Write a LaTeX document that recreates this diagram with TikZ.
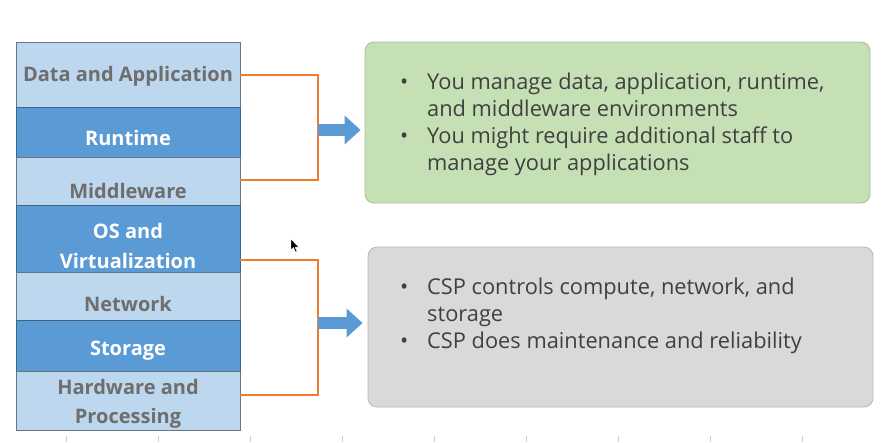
\documentclass[tikz,border=0pt]{standalone}
\usepackage{fontspec}
\setmainfont{Open Sans}
\usetikzlibrary{arrows.meta}
\definecolor{lightb}{HTML}{BDD7EE}
\definecolor{darkb}{HTML}{5B9BD5}
\definecolor{orng}{HTML}{ED7D31}
\definecolor{greenf}{HTML}{C5E0B4}
\definecolor{grayf}{HTML}{D9D9D9}
\definecolor{txtg}{HTML}{6E6E6E}
\definecolor{txtd}{HTML}{404040}
\begin{document}
\begin{tikzpicture}[x=1pt,y=-1pt,
  row/.style={draw, line width=0.8pt, minimum width=224pt, inner sep=0pt, outer sep=0pt},
  lrow/.style={row, fill=lightb, draw=lightb!55!black},
  drow/.style={row, fill=darkb, draw=darkb!65!black},
  ltxt/.style={font=\fontsize{20}{24}\selectfont\bfseries, text=txtg, inner sep=0pt, anchor=base},
  dtxt/.style={font=\fontsize{20}{24}\selectfont\bfseries, text=white, inner sep=0pt, anchor=base},
  bracket/.style={draw=orng, line width=2pt},
  bigarrow/.style={draw=darkb, line width=12pt, -{Triangle[width=28pt,length=16pt]}},
  infobox/.style={rounded corners=9pt, line width=0.8pt, minimum width=505pt, inner sep=0pt},
  btxt/.style={font=\fontsize{21.8}{26}\selectfont, text=txtd, inner sep=0pt, anchor=base west},
  tick/.style={draw=gray!40, line width=1pt}
]
\useasboundingbox (0,0) rectangle (885,442);
\fill[white] (0,0) rectangle (885,442);

% stack rows
\node[lrow, minimum height=65pt] (data) at (128,74.5) {};
\node[drow, minimum height=50pt] (runtime) at (128,132) {};
\node[lrow, minimum height=48pt] (middleware) at (128,181) {};
\node[drow, minimum height=67pt] (os) at (128,238.5) {};
\node[lrow, minimum height=48pt] (network) at (128,296) {};
\node[drow, minimum height=51pt] (storage) at (128,345.5) {};
\node[lrow, minimum height=59pt] (hardware) at (128,400.5) {};

% stack labels
\node[ltxt] (tdata) at (128,81) {Data and Application};
\node[dtxt] (truntime) at (128,145) {Runtime};
\node[ltxt] (tmiddle) at (128,198) {Middleware};
\node[dtxt] (tos1) at (128,238) {OS and};
\node[dtxt] (tos2) at (128,268) {Virtualization};
\node[ltxt] (tnet) at (128,311) {Network};
\node[dtxt] (tstor) at (128,355) {Storage};
\node[ltxt] (thw1) at (128,394) {Hardware and};
\node[ltxt] (thw2) at (128,423) {Processing};

% info boxes
\node[infobox, fill=greenf, draw=greenf!85!black, minimum height=161pt] (green) at (617.5,122.5) {};
\node[infobox, fill=grayf, draw=grayf!85!black, minimum height=160pt] (grey) at (620.5,327) {};

% brackets
\coordinate (b1top) at (data.east);
\coordinate (b1bot) at ([yshift=1pt]middleware.east);
\draw[bracket] (b1top) -- ++(78,0) coordinate (b1tr) |- (b1bot);
\coordinate (b2top) at ([yshift=12pt]os.south east);
\coordinate (b2bot) at ([yshift=5.5pt]hardware.east);
\draw[bracket] (b2top) -- ++(78,0) coordinate (b2tr) |- (b2bot);

% arrows
\coordinate (a1) at (318,130);
\coordinate (a2) at (318,323);
\draw[bigarrow] (a1) -- ([xshift=-4pt]a1 -| green.west);
\draw[bigarrow] (a2) -- ([xshift=-5pt]a2 -| grey.west);

% green box text
\node[btxt] (gb1) at (400,89) {•};
\node[btxt] (g1) at (427,89) {You manage data, application, runtime,};
\node[btxt] (g2) at (427,116) {and middleware environments};
\node[btxt] (gb2) at (400,143) {•};
\node[btxt] (g3) at (427,143) {You might require additional staff to};
\node[btxt] (g4) at (427,170) {manage your applications};

% grey box text
\node[btxt] (kb1) at (400,294) {•};
\node[btxt] (k1) at (427,294) {CSP controls compute, network, and};
\node[btxt] (k2) at (427,321) {storage};
\node[btxt] (kb2) at (400,348) {•};
\node[btxt] (k3) at (427,348) {CSP does maintenance and reliability};

% ticks
\foreach \x in {66,158,250,342,434,526,618,710,802}
  \draw[tick] (\x,436) -- (\x,442);

% mouse cursor
\filldraw[fill=black, draw=white, line width=0.4pt]
  (291,239) -- (291,250) -- (293.5,247.5) -- (295.5,252) -- (297,251.3) -- (295,247) -- (298.5,247) -- cycle;
\end{tikzpicture}
\end{document}
